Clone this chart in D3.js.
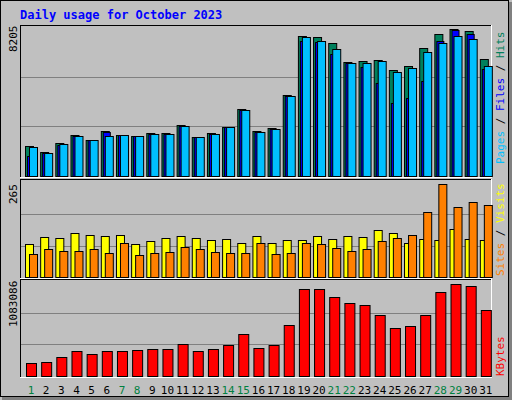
<!DOCTYPE html>
<html>
<head>
<script src="https://cdn.jsdelivr.net/npm/d3@7"></script>
<style>body{margin:0;background:#c0c0c0}svg{display:block}</style>
</head>
<body>
<svg id="chart" width="512" height="400"></svg>
<script>
// values
var days = d3.range(1, 32);
var weekend = [1, 7, 8, 14, 15, 21, 22, 28, 29];
var hits = [1652,1322,1817,2258,1983,2478,2258,2203,2368,2368,2809,2148,2368,2698,3690,2478,2643,4461,7710,7655,7324,6278,6333,6388,5837,6058,7049,7820,8095,7985,6443];
var files = [1101,1267,1707,2203,1983,2423,2258,2203,2313,2313,2754,2148,2313,2698,3635,2423,2588,4406,7434,7379,6719,6223,6003,5122,4020,4295,5232,7434,8040,7820,5892];
var pages = [1597,1267,1762,2203,1983,2203,2258,2203,2313,2313,2754,2148,2313,2698,3635,2423,2588,4406,7655,7434,6994,6223,6223,6333,5727,5948,6829,7324,7710,7545,6058];
var visits = [93,113,110,124,118,116,118,93,102,110,116,110,104,107,96,116,96,104,104,116,107,116,113,133,124,96,107,104,135,107,104];
var sites = [65,79,73,73,79,68,96,62,68,71,85,79,71,68,68,96,65,68,96,93,82,73,79,102,110,118,183,262,197,212,203];
var kbytes = [148000,160000,217000,285000,251000,285000,285000,296000,308000,308000,365000,285000,308000,353000,479000,319000,353000,581000,992000,992000,901000,832000,809000,695000,547000,570000,695000,958000,1049000,1026000,752000];
var maxHits = 8205, maxSites = 265, maxKB = 1083086;

var svg = d3.select("#chart");
var font = "DejaVu Sans Mono, monospace";

// outer frame with bevel
svg.append("rect").attr("x", 0.5).attr("y", 0.5).attr("width", 508).attr("height", 396)
  .attr("fill", "#c0c0c0").attr("stroke", "#000");
svg.append("rect").attr("x", 509).attr("y", 2).attr("width", 3).attr("height", 398).attr("fill", "#808080");
svg.append("rect").attr("x", 2).attr("y", 397).attr("width", 510).attr("height", 3).attr("fill", "#808080");

svg.append("text").attr("x", 20).attr("y", 19).text("Daily usage for October 2023")
  .attr("font-family", font).attr("font-size", 12).attr("font-weight", "bold").attr("fill", "#0000ff");

var x = d3.scaleBand().domain(days).range([20, 490]);

function panel(top, bottom, y, max) {
  svg.append("line").attr("x1", 20).attr("x2", 491).attr("y1", top + 0.5).attr("y2", top + 0.5).attr("stroke", "#000");
  svg.append("line").attr("x1", 20.5).attr("x2", 20.5).attr("y1", top).attr("y2", bottom).attr("stroke", "#000");
  svg.append("line").attr("x1", 20).attr("x2", 492).attr("y1", bottom + 0.5).attr("y2", bottom + 0.5).attr("stroke", "#fff");
  svg.append("line").attr("x1", 491.5).attr("x2", 491.5).attr("y1", top).attr("y2", bottom + 1).attr("stroke", "#fff");
  [1 / 3, 2 / 3].forEach(function (f) {
    var yy = Math.round(y(max * f)) + 0.5;
    svg.append("line").attr("x1", 21).attr("x2", 491).attr("y1", yy).attr("y2", yy).attr("stroke", "#808080");
  });
}

function bars(vals, y, off, w, color) {
  svg.append("g").selectAll("rect").data(vals).enter().append("rect")
    .attr("x", function (d, i) { return x(days[i]) + off + 0.5; })
    .attr("y", function (d) { return Math.round(y(d)) + 0.5; })
    .attr("width", w)
    .attr("height", function (d) { return Math.round(y(0)) - Math.round(y(d)); })
    .attr("fill", color).attr("stroke", "#000");
}

function vlabel(txt, xx, yy, parts) {
  var t = svg.append("text").attr("transform", "translate(" + xx + "," + yy + ") rotate(-90)")
    .attr("font-family", font).attr("font-size", 11);
  if (parts) {
    parts.forEach(function (p) { t.append("tspan").text(p[0]).attr("fill", p[1]); });
  } else t.text(txt).attr("fill", "#000");
}

// hits / files / pages
var y1 = d3.scaleLinear().domain([0, maxHits]).range([176, 27]);
panel(25, 177, y1, maxHits);
bars(hits, y1, 5, 8, "#00805c");
bars(files, y1, 7, 7, "#0000ff");
bars(pages, y1, 9, 8, "#00c0ff");
vlabel(String(maxHits), 17, 52);
vlabel(null, 504, 164, [["Pages", "#00c0ff"], [" / ", "#000"], ["Files", "#0000ff"], [" / ", "#000"], ["Hits", "#00805c"]]);

// visits / sites
var y2 = d3.scaleLinear().domain([0, maxSites]).range([277, 183]);
panel(179, 278, y2, maxSites);
bars(visits, y2, 5, 8, "#ffff00");
bars(sites, y2, 9, 8, "#ff8000");
vlabel(String(maxSites), 17, 204);
vlabel(null, 504, 276, [["Sites", "#ff8000"], [" / ", "#000"], ["Visits", "#ffff00"]]);

// kbytes
var y3 = d3.scaleLinear().domain([0, maxKB]).range([376, 281]);
panel(279, 377, y3, maxKB);
bars(kbytes, y3, 6, 10, "#ff0000");
vlabel(String(maxKB), 17, 327);
vlabel(null, 504, 376, [["KBytes", "#ff0000"]]);

// day labels
svg.append("g").selectAll("text").data(days).enter().append("text")
  .attr("x", function (d) { return x(d) + 11; })
  .attr("y", 394)
  .attr("text-anchor", "middle")
  .attr("font-family", font).attr("font-size", 11)
  .attr("fill", function (d) { return weekend.indexOf(d) >= 0 ? "#008040" : "#000"; })
  .text(function (d) { return d; });
</script>
</body>
</html>
